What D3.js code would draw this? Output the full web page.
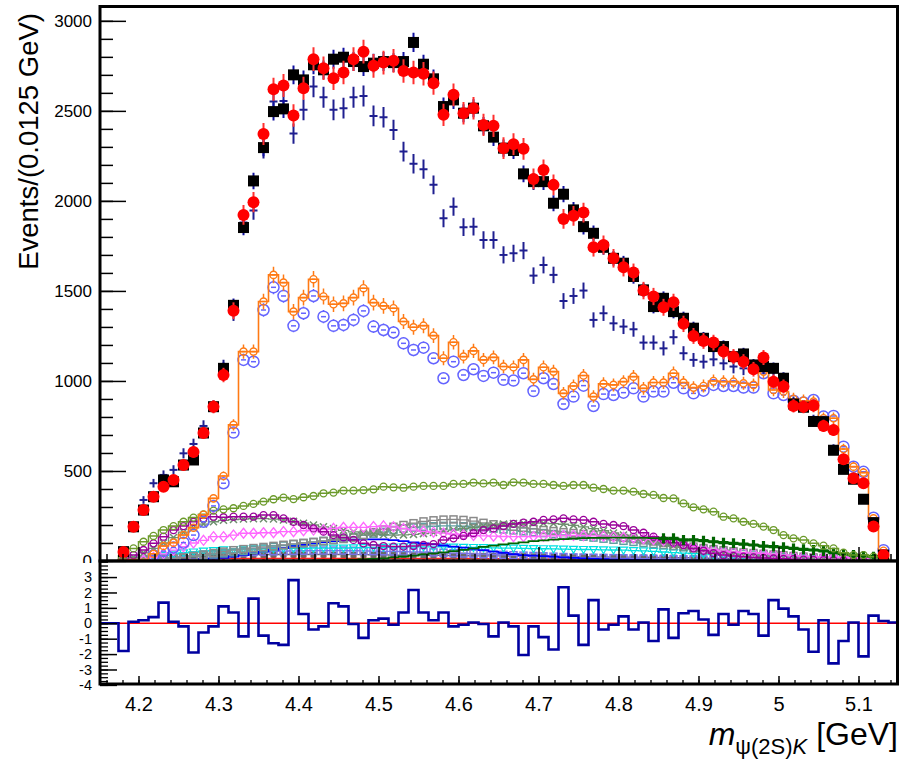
<!DOCTYPE html>
<html><head><meta charset="utf-8">
<script src="https://cdn.jsdelivr.net/npm/d3@7"></script>
<style>body{margin:0;background:#fff}svg{display:block}text{font-family:"Liberation Sans",Arial,sans-serif}</style>
</head><body><svg id="c" width="903" height="761"></svg>
<script>
// ---------------- data ----------------
const binLow = 4.15, binWidth = 0.0125, nBins = 80;
const xTickValues = [4.2,4.3,4.4,4.5,4.6,4.7,4.8,4.9,5.0,5.1];
const xTickLabels = ["4.2","4.3","4.4","4.5","4.6","4.7","4.8","4.9","5","5.1"];
const yTickValues = [0,500,1000,1500,2000,2500,3000];
const pullTickValues = [-4,-3,-2,-1,0,1,2,3];

const dataBlack = [0,0,52,190,283,357,450,440,533,561,
711,857,1070,1420,1852,2111,2296,2496,2511,2700,
2672,2756,2728,2787,2798,2774,2746,2765,2774,2768,
2774,2880,2759,2678,2524,2561,2487,2515,2417,2354,
2293,2280,2150,2107,2107,1987,2037,1950,1857,1820,
1742,1681,1654,1580,1506,1413,1459,1385,1348,1293,
1237,1191,1191,1135,1150,1089,1080,1070,1015,872,
854,775,774,615,509,454,343,213,33,0];

const dataRed = [0,0,50,190,283,357,413,450,533,605,
711,857,1033,1390,1922,1993,2372,2620,2641,2474,
2626,2787,2737,2681,2713,2787,2829,2750,2768,2778,
2722,2713,2706,2654,2478,2589,2487,2515,2422,2417,
2293,2315,2289,2122,2172,2089,1900,1917,1935,1743,
1755,1681,1631,1602,1502,1469,1409,1437,1317,1250,
1222,1213,1163,1135,1107,1065,1130,996,969,861,
857,863,750,728,565,459,432,191,33,0];

const dataNavy = [0,0,55,200,339,432,478,506,598,650,
750,860,1080,1376,1880,1946,2290,2552,2555,2374,
2506,2635,2576,2506,2515,2576,2583,2472,2465,2394,
2274,2206,2176,2089,1904,1968,1854,1857,1783,1783,
1700,1709,1724,1585,1644,1589,1444,1472,1502,1339,
1376,1320,1302,1287,1213,1213,1181,1243,1154,1117,
1107,1120,1098,1080,1070,1075,1075,1060,1010,880,
860,780,770,620,520,460,350,215,35,0];

const fitOrange = [0,0,5,8,10,40,83,102,144,185,
257,348,472,756,1163,1163,1441,1589,1546,1385,
1463,1565,1469,1426,1431,1463,1515,1435,1417,1404,
1330,1298,1307,1252,1126,1215,1135,1167,1117,1131,
1080,1076,1117,1009,1076,1052,931,972,1030,913,
984,978,996,1024,959,991,991,1043,991,963,
972,1000,996,996,987,978,1052,950,941,900,
890,885,793,793,622,524,491,237,57,0];

const fitBlue = [0,0,3,5,5,30,55,75,102,144,
218,306,432,713,1117,1107,1394,1520,1472,1306,
1376,1472,1357,1306,1311,1339,1389,1302,1283,1269,
1209,1172,1185,1126,1015,1107,1033,1065,1028,1046,
1006,1002,1043,944,1015,983,872,913,974,861,
927,922,935,959,913,941,941,990,959,931,
946,978,972,972,963,963,1043,931,922,890,
880,894,802,806,635,524,495,240,60,0];

const compOlive = [0,0,30,70,107,139,172,194,218,241,
259,280,287,293,306,317,330,343,352,344,
354,361,376,380,391,391,394,398,413,409,
407,413,417,417,417,428,428,435,431,435,
422,437,435,428,428,422,417,422,422,407,
400,391,391,385,372,367,350,348,320,298,
287,274,246,237,218,206,191,172,144,126,
117,98,85,70,46,33,33,24,8,0];

const compPurple = [0,0,10,33,61,98,135,172,194,218,
237,246,243,246,246,246,255,255,237,218,
200,181,163,144,131,117,98,89,83,80,
80,83,89,94,117,126,139,154,172,181,
194,206,213,218,228,231,237,231,228,218,
206,200,194,172,157,135,117,102,89,70,
57,43,33,28,24,20,17,14,12,10,
8,6,5,4,3,2,1,0,0,0];

const compViolet = [0,0,0,0,5,20,40,60,80,100,
115,135,135,144,154,154,157,157,163,163,
168,172,174,181,187,187,187,191,195,190,
180,172,165,160,155,150,146,142,140,138,
136,135,135,136,138,140,142,142,141,140,
138,135,132,128,124,120,112,104,95,80,
70,62,55,50,47,45,43,38,33,30,
27,24,23,22,20,18,15,10,3,0];

const compGray = [0,0,0,0,3,6,10,14,20,28,
36,44,52,60,66,72,78,84,90,95,
100,105,110,116,122,130,145,160,175,190,
200,210,220,226,230,231,228,222,212,204,
196,190,184,178,172,166,160,155,150,145,
140,134,128,122,115,108,100,94,88,80,
72,66,60,54,48,44,40,36,32,28,
24,20,17,14,11,8,5,3,1,0];

const compCadet = [0,0,0,2,5,8,12,16,20,25,
30,36,42,48,55,62,70,78,86,94,
100,106,112,118,125,133,142,152,162,172,
180,186,190,193,195,195,193,190,186,180,
175,170,165,160,155,150,145,140,135,130,
124,118,112,106,100,94,88,82,76,70,
64,58,52,46,41,36,31,27,23,19,
16,13,10,8,6,4,3,2,1,0];

const compCross = [0,0,5,20,45,70,100,130,160,185,
205,218,226,230,233,235,235,233,228,220,
210,200,190,180,170,162,155,150,146,144,
145,148,152,158,165,172,180,187,194,200,
205,208,210,211,210,208,204,198,190,180,
168,156,144,132,120,108,97,86,76,66,
57,49,42,36,30,25,21,17,14,11,
9,7,5,4,3,2,1,0,0,0];

const compDarkGreen = [0,0,0,0,0,0,0,0,0,0,
0,0,0,0,0,0,0,0,0,0,
0,2,3,4,6,8,10,12,15,20,
25,30,36,42,48,55,62,70,78,85,
92,98,104,110,115,119,122,125,127,128,
129,130,130,129,128,127,126,126,117,117,
113,107,102,98,94,89,83,80,76,70,
65,61,56,46,39,33,28,24,10,0];

const compBlue = [0,0,0,0,0,0,2,4,6,8,
10,14,18,25,33,42,52,62,72,82,
90,98,105,110,115,118,120,120,120,116,
110,104,98,92,86,80,74,68,60,52,
45,38,33,30,27,24,20,17,15,12,
10,8,7,6,5,4,3,3,2,2,
1,1,1,1,1,0,0,0,0,0,
0,0,0,0,0,0,0,0,0,0];

const compCyan = [0,0,0,0,10,20,30,38,45,50,
55,58,62,64,66,67,68,69,70,70,
70,71,72,72,72,73,74,75,76,77,
78,78,78,78,78,77,76,75,74,73,
72,71,70,69,68,67,66,65,64,63,
62,61,60,58,56,53,50,47,44,41,
38,35,32,29,26,23,20,17,15,12,
10,8,7,5,4,3,2,1,0,0];

const compSlate = [0,0,0,2,5,10,15,20,25,30,
35,38,42,45,48,50,52,54,55,56,
57,58,58,58,58,57,56,55,54,53,
52,51,50,48,46,44,42,40,38,36,
34,32,30,28,26,24,22,20,19,18,
17,16,15,14,13,12,11,10,9,8,
8,7,7,6,6,5,5,4,4,3,
3,3,2,2,2,1,1,0,0,0];

const compDim = [0,0,0,2,6,10,14,18,22,25,
28,30,32,33,34,35,35,36,36,36,
36,36,36,36,35,35,35,34,34,33,
33,32,32,31,31,30,30,29,29,28,
28,27,27,26,26,25,25,24,24,23,
23,22,22,21,21,20,20,19,18,17,
16,15,14,13,12,11,10,9,8,7,
6,5,4,4,3,2,2,1,0,0];

const compRed = [0,0,0,1,3,5,7,9,10,11,
12,12,13,13,14,14,14,15,15,15,
15,15,15,15,15,15,15,15,15,15,
15,15,14,14,14,14,14,13,13,13,
13,12,12,12,12,11,11,11,11,10,
10,10,10,9,9,9,8,8,8,7,
7,7,6,6,6,5,5,5,4,4,
4,3,3,3,2,2,2,1,1,0];

const pullValues = [0,0,-1.8,0.1,0.2,0.4,1.34,0.1,-0.2,-1.9,
-0.6,-0.2,1.1,0.7,-0.85,1.6,-0.8,-1.3,-1.4,2.8,
0.6,-0.4,-0.2,1.3,1.1,-0.05,-0.95,0.2,0.3,-0.1,
0.7,2.16,0.7,0.2,0.7,-0.2,-0.1,0.05,-0.05,-0.85,
0.05,-0.2,-2.06,-0.2,-0.9,-1.7,2.34,0.5,-1.4,1.5,
-0.4,-0.1,0.45,-0.4,0.05,-1.15,0.9,-0.95,0.65,0.8,
0.25,-0.75,0.6,-0.1,0.8,0.6,-0.8,1.5,0.95,0.45,
-0.4,-1.85,0.2,-2.6,-1.15,0.05,-2.15,0.5,0.15,0.05];

// ---------------- scales ----------------
const svg = d3.select("#c");
const x = d3.scaleLinear().domain([4.15, 5.15]).range([98.5, 898.5]);
const y = d3.scaleLinear().domain([0, 3088]).range([561, 5]);
const yp = d3.scaleLinear().domain([-4, 4.03]).range([684.9, 561.2]);
const bins = d3.range(nBins).map(i => ({lo: binLow + i*binWidth, hi: binLow + (i+1)*binWidth, c: binLow + (i+0.5)*binWidth}));

const defs = svg.append("defs");
defs.append("clipPath").attr("id","clipTop").append("rect").attr("x",100).attr("y",6.5).attr("width",797.5).attr("height",554.5);
defs.append("clipPath").attr("id","clipTopLab").append("rect").attr("x",-100).attr("y",0).attr("width",903).attr("height",563);
defs.append("clipPath").attr("id","clipPull").append("rect").attr("x",100).attr("y",561).attr("width",797.5).attr("height",123.5);

const gTop = svg.append("g").attr("clip-path","url(#clipTop)");

function stepPoints(vals, sc){
  const pts = [];
  bins.forEach((b,i)=>{ pts.push([x(b.lo), sc(vals[i])]); pts.push([x(b.hi), sc(vals[i])]); });
  return pts;
}
const line = d3.line();

function drawComponent(vals, color, marker, opts={}){
  const g = gTop.append("g");
  g.append("path").attr("d", line(stepPoints(vals, y))).attr("fill","none")
    .attr("stroke", color).attr("stroke-width", opts.lw || 1.3);
  const idx = d3.range(nBins).filter(i => vals[i] > (opts.min||0) && i >= (opts.from||0));
  const sel = g.selectAll("g.m").data(idx).enter().append("g")
    .attr("transform", i => `translate(${x(bins[i].c)},${y(vals[i])})`);
  if (marker === "circle") sel.append("circle").attr("r",3.5).attr("fill","none").attr("stroke",color).attr("stroke-width",1.3);
  if (marker === "diamond") sel.append("path").attr("d","M0,-5L4,0L0,5L-4,0Z").attr("fill","none").attr("stroke",color).attr("stroke-width",1.3);
  if (marker === "square") sel.append("rect").attr("x",-3.5).attr("y",-3.5).attr("width",7).attr("height",7).attr("fill","none").attr("stroke",color).attr("stroke-width",1.5);
  if (marker === "fsquare") sel.append("rect").attr("x",-3).attr("y",-3).attr("width",6).attr("height",6).attr("fill",color);
  if (marker === "x") sel.append("path").attr("d","M-3.5,-3.5L3.5,3.5M-3.5,3.5L3.5,-3.5").attr("stroke",color).attr("stroke-width",1.5);
  if (marker === "plus") sel.append("path").attr("d","M-5,0H5M0,-5V5").attr("stroke",color).attr("stroke-width",3.2);
  if (marker === "tri") sel.append("path").attr("d","M-4,-3L4,-3L0,4Z").attr("fill","none").attr("stroke",color).attr("stroke-width",1.2);
  if (marker === "ftri") sel.append("path").attr("d","M-3,-2L3,-2L0,3Z").attr("fill",color);
}

// components (drawn first)
drawComponent(compRed, "#ff2020", "ftri");
drawComponent(compDim, "#6a6a6a", "fsquare");
drawComponent(compSlate, "#7a72e8", "square");
drawComponent(compCyan, "#00e0e0", "tri");
drawComponent(compBlue, "#0000ff", null, {lw:1.8});
drawComponent(compCadet, "#5f9ea0", "square");
drawComponent(compGray, "#8a8a8a", "square");
drawComponent(compCross, "#6f8f6f", "x");
drawComponent(compViolet, "#ff66ff", "diamond");
drawComponent(compPurple, "#990099", "circle", {lw:1.5});
drawComponent(compDarkGreen, "#006400", "plus", {lw:1.8, from:56});
drawComponent(compOlive, "#6b9a2a", "circle", {lw:1.5});

// helper: vertical error bar split outside a circle marker
function errOutside(s, vals, k, r, col){
  s.append("path").attr("d", i => {
    const v = vals[i], e = k*Math.sqrt(v);
    const up = y(v+e)-y(v), dn = y(v-e)-y(v);
    let d = "";
    if (up < -r) d += `M0,${up}V${-r}`;
    if (dn > r) d += `M0,${r}V${dn}`;
    return d || "M0,0";
  }).attr("stroke",col).attr("stroke-width",1.5).attr("fill","none");
}

// blue fit points (large open circles)
(function(){
  const col = "#6464ff";
  const g = gTop.append("g");
  const idx = d3.range(nBins).filter(i => fitBlue[i] > 20);
  const s = g.selectAll("g").data(idx).enter().append("g").attr("transform", i=>`translate(${x(bins[i].c)},${y(fitBlue[i])})`);
  errOutside(s, fitBlue, 1.0, 5.5, col);
  s.append("circle").attr("r",5.5).attr("fill","none").attr("stroke",col).attr("stroke-width",1.5);
  s.append("line").attr("x1",-2.5).attr("x2",2.5).attr("stroke",col).attr("stroke-width",1.5);
})();

// orange fit histogram
(function(){
  const col = "#ff7a14";
  const g = gTop.append("g");
  g.append("path").attr("d", line(stepPoints(fitOrange, y))).attr("fill","none").attr("stroke",col).attr("stroke-width",1.6);
  const idx = d3.range(nBins).filter(i => fitOrange[i] > 20);
  const s = g.selectAll("g").data(idx).enter().append("g").attr("transform", i=>`translate(${x(bins[i].c)},${y(fitOrange[i])})`);
  errOutside(s, fitOrange, 1.15, 3.6, col);
  s.append("circle").attr("r",3.6).attr("fill","none").attr("stroke",col).attr("stroke-width",1.4);
  s.append("line").attr("x1",-2).attr("x2",2).attr("stroke",col).attr("stroke-width",1.3);
})();

// navy crosses
(function(){
  const col = "#1f1f90";
  const g = gTop.append("g");
  const idx = d3.range(nBins).filter(i => dataNavy[i] > 0);
  const s = g.selectAll("g").data(idx).enter().append("g");
  s.append("line").attr("x1", i=>x(bins[i].lo)+1).attr("x2", i=>x(bins[i].hi)-1).attr("y1", i=>y(dataNavy[i])).attr("y2", i=>y(dataNavy[i])).attr("stroke",col).attr("stroke-width",2);
  s.append("line").attr("x1", i=>x(bins[i].c)).attr("x2", i=>x(bins[i].c))
    .attr("y1", i=>y(dataNavy[i]+1.15*Math.sqrt(dataNavy[i]))).attr("y2", i=>y(dataNavy[i]-1.15*Math.sqrt(dataNavy[i]))).attr("stroke",col).attr("stroke-width",2);
})();

// black squares with navy error bars
(function(){
  const g = gTop.append("g");
  const idx = d3.range(nBins).filter(i => dataBlack[i] > 0);
  const s = g.selectAll("g").data(idx).enter().append("g");
  s.append("line").attr("x1", i=>x(bins[i].c)).attr("x2", i=>x(bins[i].c))
    .attr("y1", i=>y(dataBlack[i]+Math.sqrt(dataBlack[i]))).attr("y2", i=>y(dataBlack[i]-Math.sqrt(dataBlack[i]))).attr("stroke","#1010a0").attr("stroke-width",2);
  s.append("rect").attr("x", i=>x(bins[i].c)-5.5).attr("y", i=>y(dataBlack[i])-5.5).attr("width",11).attr("height",11).attr("fill","#000");
})();

// red circles
(function(){
  const g = gTop.append("g");
  const idx = d3.range(nBins).filter(i => dataRed[i] > 0);
  const s = g.selectAll("g").data(idx).enter().append("g");
  s.append("line").attr("x1", i=>x(bins[i].c)).attr("x2", i=>x(bins[i].c))
    .attr("y1", i=>y(dataRed[i]+1.25*Math.sqrt(dataRed[i]))).attr("y2", i=>y(dataRed[i]-1.25*Math.sqrt(dataRed[i]))).attr("stroke","#ff3030").attr("stroke-width",2);
  s.append("circle").attr("cx", i=>x(bins[i].c)).attr("cy", i=>y(dataRed[i])).attr("r",6).attr("fill","#ff0000");
})();

// ---------------- top axes ----------------
const yMinor = d3.range(0, 3100, 100);
svg.append("g").attr("transform","translate(100,0)")
  .call(d3.axisLeft(y).tickValues(yMinor).tickSizeInner(-13).tickSizeOuter(0).tickFormat(""))
  .call(g=>g.select(".domain").remove()).call(g=>g.selectAll("line").attr("stroke","#000").attr("stroke-width",1.5));
const yAx = svg.append("g").attr("transform","translate(100,0)").attr("clip-path","url(#clipTopLab)")
  .call(d3.axisLeft(y).tickValues(yTickValues).tickSizeInner(-26).tickSizeOuter(0).tickPadding(8).tickFormat(d3.format("d")));
yAx.select(".domain").remove();
yAx.selectAll("line").attr("stroke","#000").attr("stroke-width",1.5);
yAx.selectAll("text").attr("font-size",17).attr("fill","#000").attr("font-family","Liberation Sans, Arial, sans-serif");

const xMinorVals = d3.range(0, 51).map(i => +(4.16 + i*0.02).toFixed(3)).filter(v => v <= 5.15);
svg.append("g").attr("transform","translate(0,561)")
  .call(d3.axisBottom(x).tickValues(xMinorVals).tickSizeInner(-7).tickSizeOuter(0).tickFormat(""))
  .call(g=>g.select(".domain").remove()).call(g=>g.selectAll("line").attr("stroke","#000").attr("stroke-width",1.5));
svg.append("g").attr("transform","translate(0,561)")
  .call(d3.axisBottom(x).tickValues(xTickValues).tickSizeInner(-14).tickSizeOuter(0).tickFormat(""))
  .call(g=>g.select(".domain").remove()).call(g=>g.selectAll("line").attr("stroke","#000").attr("stroke-width",1.5));

// top frame
svg.append("rect").attr("x",100).attr("y",6.5).attr("width",797.5).attr("height",554.5)
  .attr("fill","none").attr("stroke","#000").attr("stroke-width",3);

// y title
svg.append("text").attr("transform","translate(38,13) rotate(-90)").attr("text-anchor","end")
  .attr("font-size",27.5).attr("fill","#000").text("Events/(0.0125 GeV)");

// ---------------- pull panel ----------------
svg.append("rect").attr("x",100).attr("y",562.5).attr("width",797.5).attr("height",121).attr("fill","#fff");
const gPull = svg.append("g").attr("clip-path","url(#clipPull)");
gPull.append("line").attr("x1",x(4.15)).attr("x2",x(5.15)).attr("y1",yp(0)).attr("y2",yp(0)).attr("stroke","#ff0000").attr("stroke-width",1.5);
const pullPts = [[x(4.15), yp(0)]];
bins.forEach((b,i)=>{ pullPts.push([x(b.lo), yp(pullValues[i])]); pullPts.push([x(b.hi), yp(pullValues[i])]); });
gPull.append("path").attr("d", line(pullPts)).attr("fill","none").attr("stroke","#0000a0").attr("stroke-width",2.6);

const pMinor = d3.range(-4, 4.01, 0.25);
svg.append("g").attr("transform","translate(100,0)")
  .call(d3.axisLeft(yp).tickValues(pMinor).tickSizeInner(-8).tickSizeOuter(0).tickFormat(""))
  .call(g=>g.select(".domain").remove()).call(g=>g.selectAll("line").attr("stroke","#000").attr("stroke-width",1.3));
const pAx = svg.append("g").attr("transform","translate(100,0)")
  .call(d3.axisLeft(yp).tickValues(pullTickValues).tickSizeInner(-17).tickSizeOuter(0).tickPadding(8).tickFormat(d3.format("d")));
pAx.select(".domain").remove();
pAx.selectAll("line").attr("stroke","#000").attr("stroke-width",1.5);
pAx.selectAll("text").attr("font-size",14.5).attr("fill","#000").attr("font-family","Liberation Sans, Arial, sans-serif").text(d => String(d));

svg.append("g").attr("transform","translate(0,684)")
  .call(d3.axisBottom(x).tickValues(xMinorVals).tickSizeInner(-4).tickSizeOuter(0).tickFormat(""))
  .call(g=>g.select(".domain").remove()).call(g=>g.selectAll("line").attr("stroke","#000").attr("stroke-width",1.3));
const xAx = svg.append("g").attr("transform","translate(0,684)")
  .call(d3.axisBottom(x).tickValues(xTickValues).tickSizeInner(-8).tickSizeOuter(0).tickPadding(13).tickFormat((d,i)=>xTickLabels[i]));
xAx.select(".domain").remove();
xAx.selectAll("line").attr("stroke","#000").attr("stroke-width",1.5);
xAx.selectAll("text").attr("font-size",20).attr("fill","#000").attr("font-family","Liberation Sans, Arial, sans-serif");

svg.append("rect").attr("x",100).attr("y",561).attr("width",797.5).attr("height",123)
  .attr("fill","none").attr("stroke","#000").attr("stroke-width",3);

// x title
const xt = svg.append("text").attr("x",898).attr("y",745).attr("text-anchor","end").attr("font-size",32).attr("fill","#000");
xt.append("tspan").attr("font-style","italic").text("m");
xt.append("tspan").attr("font-size",22).attr("dy",9).text("\u03C8(2S)");
xt.append("tspan").attr("font-size",22).attr("font-style","italic").text("K");
xt.append("tspan").attr("dy",-9).text(" [GeV]");
</script></body></html>
